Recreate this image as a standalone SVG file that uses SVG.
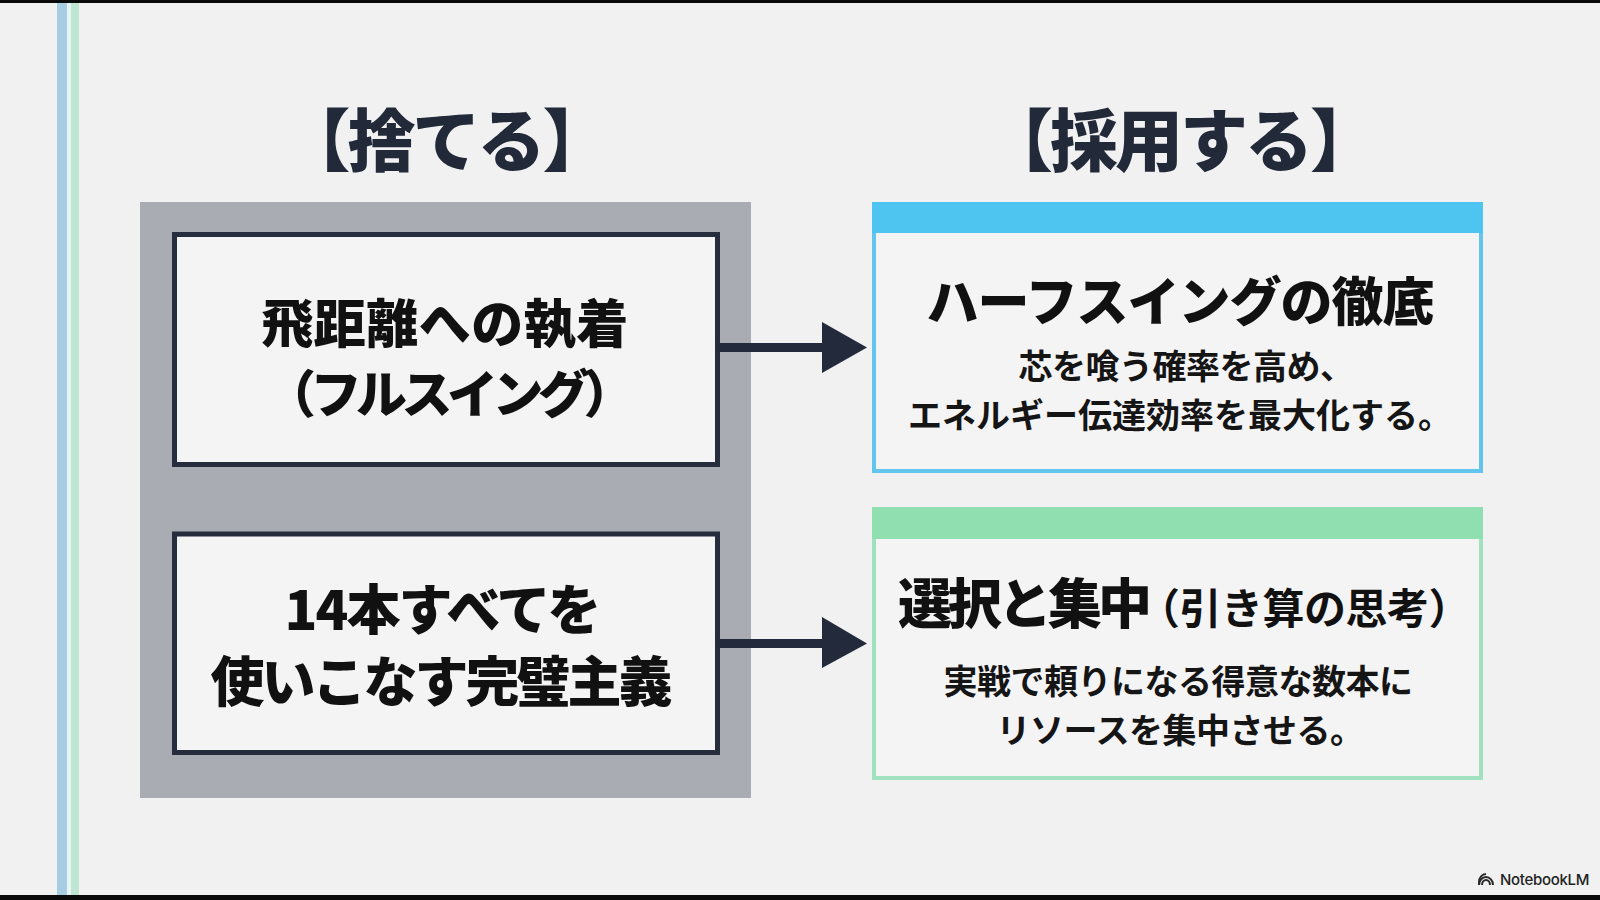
<svg xmlns="http://www.w3.org/2000/svg" width="1600" height="900" viewBox="0 0 1600 900">
  <defs>
    <style>
      .jp { font-family: "Noto Sans CJK JP", "Noto Sans", sans-serif; text-anchor: middle; }
      .title { font-size: 68px; font-weight: 900; fill: #222a3a; letter-spacing: -3px; }
      .big { font-size: 54px; font-weight: 900; fill: #111111; }
      .head { font-size: 52px; font-weight: 900; fill: #111111; letter-spacing: -1px; }
      .sub { font-size: 34px; font-weight: 700; fill: #151515; letter-spacing: -0.5px; }
      .inner { fill: #f4f4f5; stroke: #262d3d; stroke-width: 5; }
      .arrow { fill: #232a3b; }
    </style>
  </defs>

  <!-- background -->
  <rect x="0" y="0" width="1600" height="900" fill="#f1f1f1"/>
  <rect x="0" y="0" width="1600" height="3" fill="#0a0a0a"/>
  <rect x="0" y="895" width="1600" height="5" fill="#0a0a0a"/>

  <!-- left accent lines -->
  <rect x="57" y="3" width="10" height="892" fill="#a6cde3"/>
  <rect x="67" y="3" width="4" height="892" fill="#e6f4f4"/>
  <rect x="71" y="3" width="8" height="892" fill="#bfe6d2"/>

  <!-- column titles -->
  <text class="jp title" x="445" y="166">【捨てる】</text>
  <text class="jp title" x="1180" y="166">【採用する】</text>

  <!-- discard panel -->
  <g id="discard-panel">
    <rect x="140" y="202" width="611" height="596" fill="#a9acb2"/>
  </g>

  <g id="discard-1">
    <rect class="inner" x="174.5" y="234.5" width="543" height="230"/>
    <text class="jp big" x="445" y="343" style="font-size:52px;letter-spacing:0.5px">飛距離への執着</text>
    <text class="jp big" x="447" y="413" style="font-size:51px;letter-spacing:-5.5px">（フルスイング）</text>
  </g>

  <g id="discard-2">
    <rect class="inner" x="174.5" y="534" width="543" height="218.5"/>
    <text class="jp big" x="442" y="630" style="letter-spacing:-2px">14本すべてを</text>
    <text class="jp big" x="440" y="702" style="letter-spacing:-3px">使いこなす完璧主義</text>
  </g>

  <!-- adopt boxes -->
  <g id="adopt-1">
    <rect x="874" y="204" width="607" height="267" fill="#f4f4f5" stroke="#63c4ee" stroke-width="4"/>
    <rect x="872" y="202" width="611" height="31" fill="#4ec5f1"/>
    <text class="jp head" x="1180" y="321">ハーフスイングの徹底</text>
    <text class="jp sub" x="1186" y="379">芯を喰う確率を高め、</text>
    <text class="jp sub" x="1180" y="428" style="letter-spacing:0px">エネルギー伝達効率を最大化する。</text>
  </g>

  <g id="adopt-2">
    <rect x="874" y="509" width="607" height="269" fill="#f4f4f5" stroke="#a0e2c0" stroke-width="4"/>
    <rect x="872" y="507" width="611" height="32" fill="#8fdfb1"/>
    <text class="jp" x="1184" y="624" style="font-weight:900;fill:#111111"><tspan style="font-size:54px;letter-spacing:-4px">選択と集中</tspan><tspan dx="-10" style="font-size:42px;font-weight:700;letter-spacing:-0.5px">（引き算の思考）</tspan></text>
    <text class="jp sub" x="1178" y="694">実戦で頼りになる得意な数本に</text>
    <text class="jp sub" x="1180" y="743">リソースを集中させる。</text>
  </g>

  <!-- connectors -->
  <g id="connectors">
    <rect class="arrow" x="718" y="343" width="106" height="9"/>
    <polygon class="arrow" points="822,322 867,347.5 822,373"/>
    <rect class="arrow" x="718" y="639" width="106" height="9"/>
    <polygon class="arrow" points="822,617 867,643.5 822,668"/>
  </g>

  <!-- watermark -->
  <g id="watermark">
    <g fill="none" stroke="#2a2a2a" stroke-width="2">
      <path d="M1479,885 A7,8 0 0 1 1493,885"/>
      <path d="M1482,885 A4,5 0 0 1 1490,885"/>
      <path d="M1479,885 L1479,882 A7,8 0 0 1 1486,874"/>
    </g>
    <text x="1500" y="885" style="font-family:Inter, 'Liberation Sans', sans-serif;font-size:15px;font-weight:500;fill:#222222;letter-spacing:-0.3px">NotebookLM</text>
  </g>
</svg>
